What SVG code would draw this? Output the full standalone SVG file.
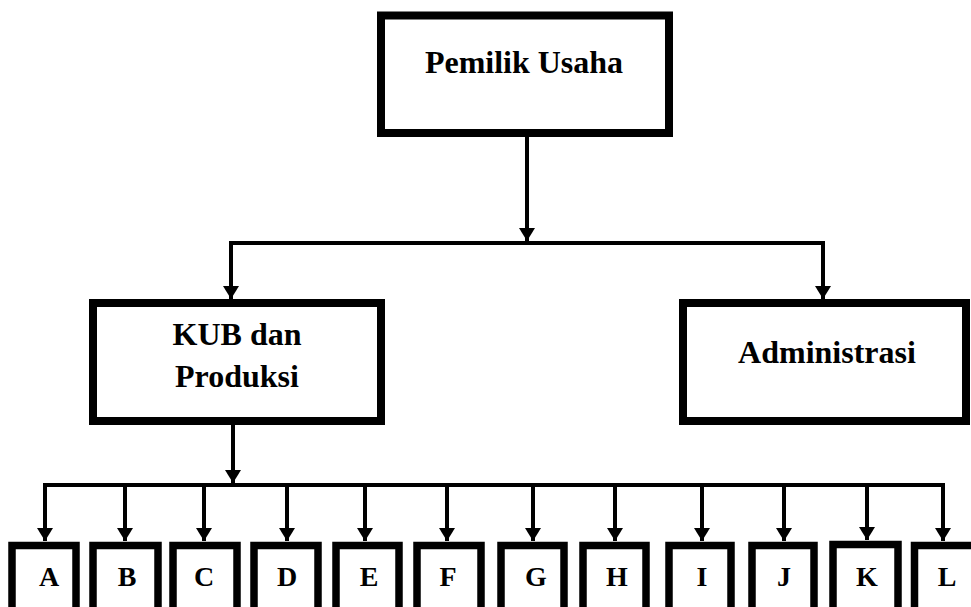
<svg xmlns="http://www.w3.org/2000/svg" width="971" height="607" viewBox="0 0 971 607">
  <style>
    .box { fill: #fff; stroke: #000; stroke-width: 8; }
    .sm { fill: #fff; stroke: #000; stroke-width: 7.5; }
    .lbl { font-family: "Liberation Serif", "Times New Roman", serif; font-weight: bold; font-size: 32px; fill: #000; text-anchor: middle; }
    .let { font-family: "Liberation Serif", "Times New Roman", serif; font-weight: bold; font-size: 28px; fill: #000; text-anchor: middle; }
    .ln { fill: none; stroke: #000; stroke-width: 4; }
  </style>
  <defs>
    <marker id="ah" viewBox="0 0 13 16" refX="13" refY="8" markerWidth="13" markerHeight="16" markerUnits="userSpaceOnUse" orient="auto">
      <path d="M0,0 L13,8 L0,16 z" fill="#000"/>
    </marker>
  </defs>
  <rect width="971" height="607" fill="#fff"/>

  <g id="connectors">
    <line class="ln" x1="527" y1="133" x2="527" y2="241" marker-end="url(#ah)"/>
    <polyline class="ln" points="231,300 231,243 825,243"/>
    <line class="ln" x1="231" y1="260" x2="231" y2="299" marker-end="url(#ah)"/>
    <line class="ln" x1="823" y1="243" x2="823" y2="299" marker-end="url(#ah)"/>
    <line class="ln" x1="233" y1="421" x2="233" y2="483" marker-end="url(#ah)"/>
    <line class="ln" x1="43" y1="485" x2="945" y2="485"/>
    <line class="ln" x1="45" y1="485" x2="45" y2="541" marker-end="url(#ah)"/>
    <line class="ln" x1="125" y1="485" x2="125" y2="541" marker-end="url(#ah)"/>
    <line class="ln" x1="204" y1="485" x2="204" y2="541" marker-end="url(#ah)"/>
    <line class="ln" x1="287" y1="485" x2="287" y2="541" marker-end="url(#ah)"/>
    <line class="ln" x1="365" y1="485" x2="365" y2="541" marker-end="url(#ah)"/>
    <line class="ln" x1="447" y1="485" x2="447" y2="541" marker-end="url(#ah)"/>
    <line class="ln" x1="533" y1="485" x2="533" y2="541" marker-end="url(#ah)"/>
    <line class="ln" x1="615" y1="485" x2="615" y2="541" marker-end="url(#ah)"/>
    <line class="ln" x1="702" y1="485" x2="702" y2="541" marker-end="url(#ah)"/>
    <line class="ln" x1="784" y1="485" x2="784" y2="541" marker-end="url(#ah)"/>
    <line class="ln" x1="867" y1="485" x2="867" y2="540" marker-end="url(#ah)"/>
    <line class="ln" x1="943" y1="485" x2="943" y2="541" marker-end="url(#ah)"/>
  </g>

  <g id="pemilik">
    <rect class="box" x="381" y="15.5" width="288" height="117.5"/>
    <text class="lbl" x="524" y="73">Pemilik Usaha</text>
  </g>
  <g id="kub">
    <rect class="box" x="93" y="303" width="288" height="118"/>
    <text class="lbl" x="237" y="345">KUB dan</text>
    <text class="lbl" x="237" y="387">Produksi</text>
  </g>
  <g id="admin">
    <rect class="box" x="683" y="303" width="283" height="118"/>
    <text class="lbl" x="827" y="363">Administrasi</text>
  </g>

  <g id="A"><rect class="sm" x="12" y="545.5" width="64" height="75"/><text class="let" x="49" y="586">A</text></g>
  <g id="B"><rect class="sm" x="93" y="545.5" width="65" height="75"/><text class="let" x="127" y="586">B</text></g>
  <g id="C"><rect class="sm" x="173" y="545.5" width="64" height="75"/><text class="let" x="204" y="586">C</text></g>
  <g id="D"><rect class="sm" x="254" y="545.5" width="64" height="75"/><text class="let" x="287" y="586">D</text></g>
  <g id="E"><rect class="sm" x="336" y="545.5" width="63" height="75"/><text class="let" x="369" y="586">E</text></g>
  <g id="F"><rect class="sm" x="417" y="545.5" width="64" height="75"/><text class="let" x="448" y="586">F</text></g>
  <g id="G"><rect class="sm" x="501" y="545.5" width="63" height="75"/><text class="let" x="536" y="586">G</text></g>
  <g id="H"><rect class="sm" x="583" y="545.5" width="63" height="75"/><text class="let" x="617" y="586">H</text></g>
  <g id="I"><rect class="sm" x="669" y="545.5" width="62" height="75"/><text class="let" x="702" y="586">I</text></g>
  <g id="J"><rect class="sm" x="752" y="545.5" width="62" height="75"/><text class="let" x="784" y="586">J</text></g>
  <g id="K"><rect class="sm" x="833" y="544.5" width="65" height="76"/><text class="let" x="867" y="586">K</text></g>
  <g id="L"><rect class="sm" x="914.5" y="545.5" width="64" height="75"/><text class="let" x="947" y="586">L</text></g>
</svg>
